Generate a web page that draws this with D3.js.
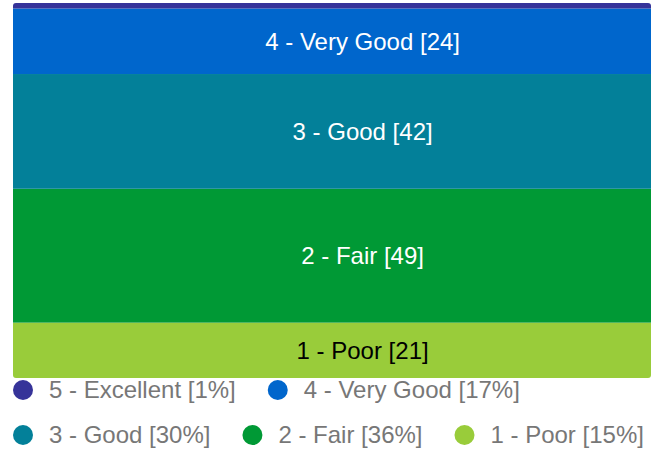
<!DOCTYPE html>
<meta charset="utf-8">
<head>
<style>
  body { margin: 0; background: #fff; }
  svg text { font-family: "Liberation Sans", Arial, sans-serif; }
  .lbl { font-size: 24px; }
  .legend text { font-size: 24px; fill: #777; }
</style>
</head>
<body>
<svg id="chart"></svg>
<script src="https://d3js.org/d3.v7.min.js"></script>
<script>
// data, bottom of the stack first
var categories = ["1 - Poor", "2 - Fair", "3 - Good", "4 - Very Good", "5 - Excellent"];
var counts = [21, 49, 42, 24, 2];
var colors = ["#99cc3a", "#009935", "#038099", "#0066cc", "#363399"];
var labelColors = ["#000", "#fff", "#fff", "#fff", "#fff"];
// legend order and percentages as shown
var legendOrder = [4, 3, 2, 1, 0];
var percents = [15, 36, 30, 17, 1];

var W = 655, H = 453;
var svg = d3.select("#chart").attr("width", W).attr("height", H);

var total = d3.sum(counts);
var x = d3.scaleLinear().domain([0, 1]).range([13, 651]);
var y = d3.scaleLinear().domain([0, total]).range([380, 3]);

// cumulative stack
var stack = [];
var acc = 0;
counts.forEach(function(c, i) {
  stack.push({i: i, y0: acc, y1: acc + c});
  acc += c;
});

// bar outline with small rounded corners, bottom trimmed a little
svg.append("defs").append("clipPath").attr("id", "barclip")
  .append("rect")
  .attr("x", x(0)).attr("y", y(total))
  .attr("width", x(1) - x(0)).attr("height", 378 - y(total))
  .attr("rx", 3);

var g = svg.append("g").attr("clip-path", "url(#barclip)");
g.selectAll("rect")
  .data(stack)
  .enter().append("rect")
  .attr("x", x(0))
  .attr("width", x(1) - x(0))
  .attr("y", function(d) { return y(d.y1); })
  .attr("height", function(d) { return y(d.y0) - y(d.y1); })
  .attr("fill", function(d) { return colors[d.i]; });

// labels (skip the thin top band)
svg.selectAll(".lbl")
  .data(stack.filter(function(d) { return counts[d.i] > 5; }))
  .enter().append("text")
  .attr("class", "lbl")
  .attr("x", x(0.548))
  .attr("y", function(d) { return (Math.min(y(d.y0), 378) + y(d.y1)) / 2; })
  .attr("dy", "0.35em")
  .attr("text-anchor", "middle")
  .attr("fill", function(d) { return labelColors[d.i]; })
  .text(function(d) { return categories[d.i] + " [" + counts[d.i] + "]"; });

// legend, flowing left to right and wrapping
var leg = svg.append("g").attr("class", "legend");
var lx = 13, ly = 390, r = 10;
legendOrder.forEach(function(i) {
  var item = leg.append("g");
  item.append("circle").attr("r", r).attr("fill", colors[i]);
  var t = item.append("text").attr("x", r + 16).attr("dy", "0.35em")
    .text(categories[i] + " [" + percents[i] + "%]");
  var w = 2 * r + 16 + t.node().getComputedTextLength();
  if (lx + w > 652) { lx = 13; ly += 45; }
  item.attr("transform", "translate(" + (lx + r) + "," + ly + ")");
  lx += w + 32;
});
</script>
</body>
